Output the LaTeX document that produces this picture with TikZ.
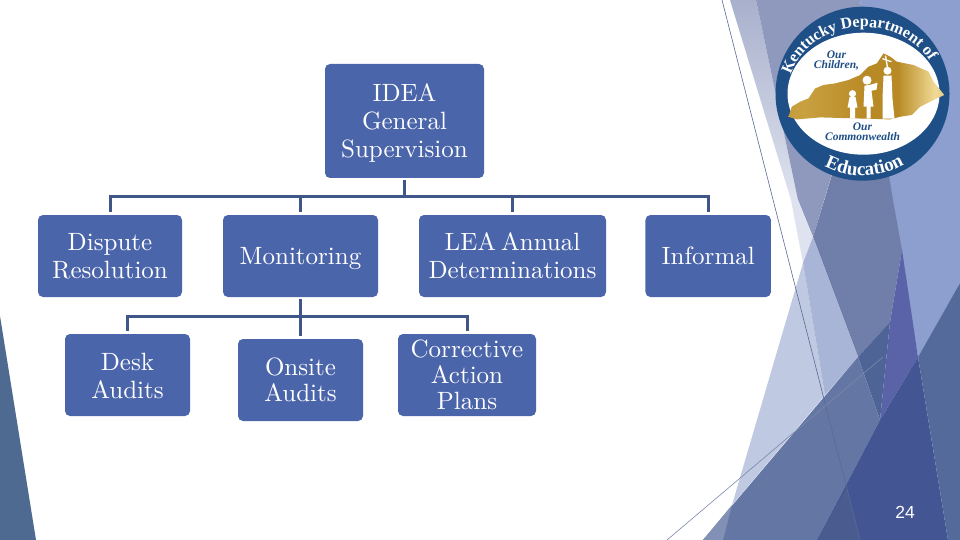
\documentclass[tikz,border=0pt]{standalone}
\usepackage{fontspec}
\usetikzlibrary{decorations.text}
\newfontfamily\boxfont{lmroman10-regular.otf}
\newfontfamily\logofont{Liberation Serif}
\newfontfamily\numfont{Liberation Sans}
\newcommand\lowered[2]{\raisebox{-#1}[\height][\depth]{#2}}
\definecolor{boxblue}{HTML}{4B65AA}
\definecolor{barblue}{HTML}{3F5688}
\definecolor{ringblue}{HTML}{1F4F87}
\definecolor{fLeft}{HTML}{4F6A90}
\definecolor{fLav}{HTML}{8C9FCF}
\definecolor{fPaleA}{HTML}{A8B0CC}
\definecolor{fPaleB}{HTML}{DFE3EF}
\definecolor{fGrey}{HTML}{8E99BD}
\definecolor{fSlate}{HTML}{6F7FAA}
\definecolor{fLight}{HTML}{BFC9E1}
\definecolor{fMid}{HTML}{A9B5D6}
\definecolor{fPurple}{HTML}{5A63A8}
\definecolor{fDeep}{HTML}{4F6496}
\definecolor{fDiag}{HTML}{6476A3}
\definecolor{fCorner}{HTML}{8290B5}
\definecolor{fDark}{HTML}{445593}
\definecolor{fStrip}{HTML}{4A5B8F}
\definecolor{fRight}{HTML}{546A9A}
\definecolor{lineA}{HTML}{5A6A95}
\definecolor{lineB}{HTML}{7C88AA}
\definecolor{goldA}{HTML}{B88A25}
\definecolor{goldC}{HTML}{C9A040}
\definecolor{goldB}{HTML}{F0DA96}
\pgfdeclarehorizontalshading{kygold}{100bp}{color(0bp)=(goldA); color(30bp)=(goldC); color(50bp)=(goldA); color(60bp)=(goldA); color(72bp)=(goldB); color(85bp)=(goldC); color(100bp)=(goldA)}
\tikzset{
  orgbox/.style={fill=boxblue,rounded corners=5pt,inner sep=0pt,text=white,align=center,
    font=\boxfont\fontsize{25}{28}\selectfont,minimum width=#1},
  orgtight/.style={font=\boxfont\fontsize{25}{26}\selectfont},
  conn/.style={draw=barblue,line width=3pt,shorten <=2pt},
  facet/.style={fill=#1,draw=none},
  thinline/.style={draw=#1,line width=0.6pt},
  logolabel/.style={font=\logofont\bfseries\itshape\fontsize{11.5}{10.5}\selectfont,text=ringblue,align=center,inner sep=0pt}
}
\begin{document}
\begin{tikzpicture}[x=1pt,y=-1pt]
\useasboundingbox (0,0) rectangle (960,540);
\fill[white] (0,0) rectangle (960,540);
% left facet
\path[facet=fLeft] (0,316) -- (36,540) -- (0,540) -- cycle;
% right facets
\path[facet=fLav] (860,0) -- (960,0) -- (960,283) -- (918,357) -- cycle;
\shade[top color=fPaleA,bottom color=fPaleB,draw=none] (730,0) -- (756,0) -- (798,200) -- (791,200) -- cycle;
\path[facet=fGrey] (756,0) -- (860,0) -- (869,53) -- (824,200) -- (813,237) -- (798,200) -- cycle;
\path[facet=fPaleB] (791,200) -- (798,200) -- (813,237) -- (803,263) -- cycle;
\path[facet=fSlate] (869,53) -- (893,200) -- (902,250) -- (890,322) -- (858,357) -- (813,237) -- cycle;
\path[facet=fLight] (803,263) -- (825,395) -- (732,505) -- cycle;
\path[facet=fMid] (803,263) -- (813,237) -- (858,357) -- (825,395) -- cycle;
\path[facet=fPurple] (902,250) -- (918,357) -- (880,420) -- (890,322) -- cycle;
\path[facet=fDeep] (858,357) -- (890,322) -- (880,420) -- cycle;
\path[facet=fDiag] (703,540) -- (858,357) -- (880,420) -- (817,540) -- cycle;
\path[facet=fCorner] (703,540) -- (723,540) -- (732,505) -- cycle;
\path[facet=fDark] (817,540) -- (880,420) -- (918,357) -- (948,540) -- cycle;
\path[facet=fStrip] (817,540) -- (847,487) -- (860,540) -- cycle;
\path[facet=fRight] (918,357) -- (960,283) -- (960,540) -- (948,540) -- cycle;
% thin lines
\coordinate (la) at (722,0); \coordinate (lb) at (860,540);
\coordinate (lc) at (667,540); \coordinate (ld) at (883,357);
\draw[thinline=lineA] (la) -- (lb);
\draw[thinline=lineB] (lc) -- (ld);
% logo
\begin{scope}[shift={(862.5,93.7)},x=1pt,y=1pt]
  \fill[ringblue] (0,0) circle[radius=87pt];
  \fill[white] (1,0) ellipse[x radius=76pt,y radius=61pt];
  \path[shading=kygold,draw=none]
    (-74,-23) -- (-70.7,-13) -- (-62.3,-8) -- (-54,-4.7) -- (-47.3,5.3) -- (-39,8.7) -- (-27.3,10.3)
    -- (-14,13.7) -- (-2.3,18.7) -- (6,27) -- (14.3,30.3) -- (21,40.3) -- (27.7,37) -- (34.3,32)
    -- (51,28.7) -- (66,22) -- (71,12) -- (81.7,-1.3) -- (71,-6.3) -- (57.7,-13) -- (49.3,-21.3)
    -- (37.7,-23) -- (27.7,-25.7) -- (-42.3,-23.7) -- (-65.7,-25.7) -- cycle;
  % figures
  \fill[white] (-10,0) circle[radius=3.6pt];
  \fill[white] (-13,-3.5) -- (-7,-3.5) -- (-5,-14) -- (-7.5,-14) -- (-7.5,-25) -- (-12.5,-25) -- (-12.5,-14) -- (-15,-14) -- cycle;
  \fill[white] (4.5,13.5) circle[radius=4.5pt];
  \fill[white] (2,8) -- (8,9) -- (15,11) -- (14,4) -- (9,3) -- (11,-13) -- (8,-13) -- (8,-25) -- (4,-25) -- (4,-13) -- (1,-13) -- cycle;
  \fill[white] (25,23) circle[radius=4pt];
  \fill[white] (21,18) -- (29,18) -- (30,-5) -- (32,-25) -- (20,-25) -- (20,-5) -- cycle;
  \draw[white,line width=1.3pt] (26,20) -- (23,38) (20,35) -- (29,32);
  % logo texts
  \node[logolabel] (ch) at (-26,33) {Our\\Children,};
  \node[logolabel] (cw) at (0,-38) {Our\\Commonwealth};
  \path[decorate,decoration={text along path,text align=center,text color=white,
    text={|\logofont\bfseries\fontsize{16}{16}\selectfont|Kentucky Department of}}]
    (-72.5,16) arc[start angle=168,end angle=25,x radius=75pt,y radius=64pt];
  \path[decorate,decoration={text along path,text align=center,text color=white,
    text={|\logofont\bfseries\fontsize{19}{19}\selectfont|Education}}]
    (235:82) arc[start angle=235,end angle=308,radius=82pt];
\end{scope}
% nodes
\node[orgbox=159pt,minimum height=114pt] (idea) at (404.5,121) {\lowered{2pt}{IDEA}\\\lowered{2pt}{General}\\\lowered{2pt}{Supervision}};
\node[orgbox=144pt,minimum height=82pt] (dispute) at (110,256) {Dispute\\Resolution};
\node[orgbox=155pt,minimum height=82pt] (monitoring) at (300.5,256) {\lowered{3pt}{Monitoring}};
\node[orgbox=187pt,minimum height=82pt] (lea) at (512.5,256) {LEA\hspace{5pt}Annual\\Determinations};
\node[orgbox=125.5pt,minimum height=82pt] (informal) at (708.2,256) {Informal};
\node[orgbox=125pt,minimum height=82pt] (desk) at (127.5,375) {\lowered{1pt}{Desk}\\\lowered{1pt}{Audits}};
\node[orgbox=125pt,minimum height=82pt,orgtight] (onsite) at (300.5,380) {Onsite\\Audits};
\node[orgbox=138pt,minimum height=82pt,orgtight] (cap) at (467,375) {Corrective\\Action\\Plans};
% connectors
\foreach \t in {dispute,monitoring,lea,informal}
  \draw[conn,shorten >=3pt] (idea.south) -- ++(0,18) -| (\t.north);
\foreach \t in {desk,onsite,cap}
  \draw[conn,shorten >=3pt] (monitoring.south) -- ++(0,19) -| (\t.north);
% page number
\node[font=\numfont\fontsize{17.5}{17.5}\selectfont,text=white,inner sep=0pt] (pg) at (905,512) {24};
\end{tikzpicture}
\end{document}
